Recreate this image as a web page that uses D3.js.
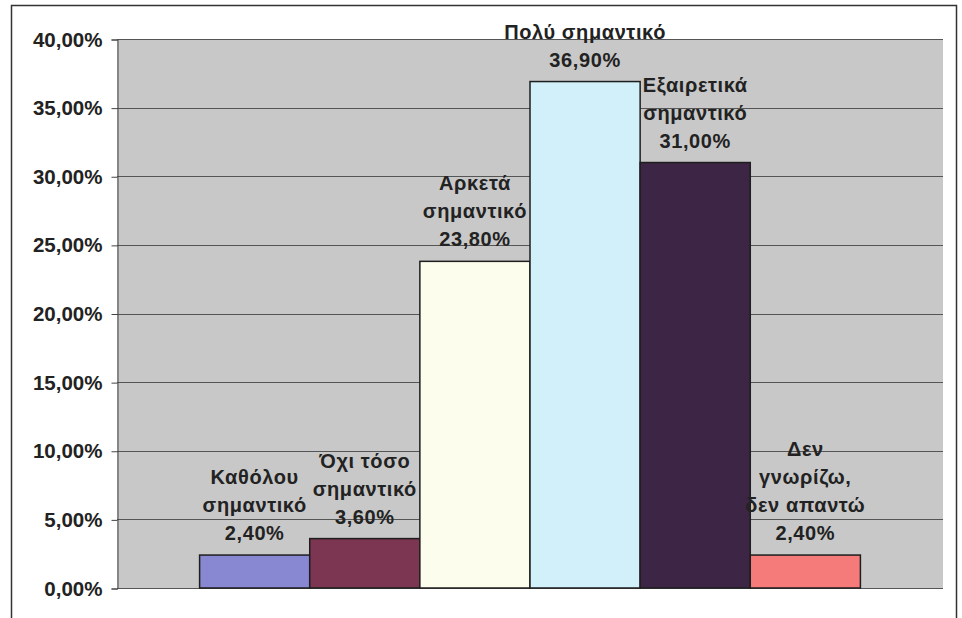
<!DOCTYPE html>
<html>
<head>
<meta charset="utf-8">
<script src="https://cdn.jsdelivr.net/npm/d3@7"></script>
<style>
  body { margin: 0; background: #fff; }
  text { font-family: "Liberation Sans", Arial, sans-serif; font-weight: bold; fill: #222; }
</style>
</head>
<body>
<div id="chart-area"></div>
<script>
// data
var categories = ['Καθόλου σημαντικό', 'Όχι τόσο σημαντικό', 'Αρκετά σημαντικό',
                  'Πολύ σημαντικό', 'Εξαιρετικά σημαντικό', 'Δεν γνωρίζω, δεν απαντώ'];
var labelLines = [
    ['Καθόλου', 'σημαντικό'],
    ['Όχι τόσο', 'σημαντικό'],
    ['Αρκετά', 'σημαντικό'],
    ['Πολύ σημαντικό'],
    ['Εξαιρετικά', 'σημαντικό'],
    ['Δεν', 'γνωρίζω,', 'δεν απαντώ']
];
var values = [0.024, 0.036, 0.238, 0.369, 0.310, 0.024];
var yTicks = [0, 0.05, 0.10, 0.15, 0.20, 0.25, 0.30, 0.35, 0.40];

var def = {
    width: 962,
    height: 618,
    left: 117,
    right: 943,
    top: 39,
    bottom: 588,
    lineGap: 28
};

var colors = ['#8787d2', '#7d3651', '#fdfdee', '#d2f0fa', '#3c2545', '#f57b7b'];

var gr = d3.formatLocale({ decimal: ',', thousands: '.', grouping: [3], currency: ['', '€'] });
var pct = gr.format('.2%');

var svg = d3.select('#chart-area').append('svg')
    .attr('width', def.width)
    .attr('height', def.height);

// outer chart border
svg.append('rect')
    .attr('x', 11.5).attr('y', 5.5)
    .attr('width', 945).attr('height', 640)
    .attr('fill', '#fff')
    .attr('stroke', '#333')
    .attr('stroke-width', 1.5);

var x = d3.scaleBand()
    .domain(categories)
    .range([def.left, def.right])
    .paddingInner(0)
    .paddingOuter(0.75);

var y = d3.scaleLinear()
    .domain([0, 0.40])
    .range([def.bottom, def.top]);

// plot area
svg.append('rect')
    .attr('x', def.left).attr('y', def.top)
    .attr('width', def.right - def.left)
    .attr('height', def.bottom - def.top)
    .attr('fill', '#c8c8c8');

// gridlines
svg.append('g')
    .selectAll('line')
    .data(yTicks)
    .enter().append('line')
    .attr('x1', def.left).attr('x2', def.right)
    .attr('y1', d => Math.round(y(d)) + 0.5)
    .attr('y2', d => Math.round(y(d)) + 0.5)
    .attr('stroke', '#555')
    .attr('stroke-width', 1);

// y axis
var yAx = d3.axisLeft(y)
    .tickValues(yTicks)
    .tickFormat(pct)
    .tickSize(6)
    .tickPadding(9);

var yUnit = svg.append('g')
    .attr('transform', 'translate(' + (def.left + 0.5) + ',0.5)')
    .call(yAx);
yUnit.select('.domain').attr('stroke', '#444');
yUnit.selectAll('.tick line').attr('stroke', '#444');
yUnit.selectAll('.tick text')
    .attr('font-size', '20.5px')
    .attr('font-family', '"Liberation Sans", Arial, sans-serif')
    .attr('font-weight', 'bold')
    .attr('fill', '#222');

// bars
svg.append('g')
    .selectAll('rect')
    .data(values)
    .enter().append('rect')
    .attr('x', (d, i) => x(categories[i]))
    .attr('y', d => y(d))
    .attr('width', x.bandwidth())
    .attr('height', d => y(0) - y(d))
    .attr('fill', (d, i) => colors[i])
    .attr('stroke', '#1e1e1e')
    .attr('stroke-width', 1.5);

// data labels
values.forEach((v, i) => {
    var lines = labelLines[i].concat([pct(v)]);
    var cx = x(categories[i]) + x.bandwidth() / 2;
    var base = y(v) - 15;
    var t = svg.append('text')
        .attr('text-anchor', 'middle')
        .attr('font-size', '20px')
        .attr('letter-spacing', '0.6px');
    lines.forEach((l, j) => {
        t.append('tspan')
            .attr('x', cx)
            .attr('y', base - (lines.length - 1 - j) * def.lineGap)
            .text(l);
    });
});
</script>
</body>
</html>
